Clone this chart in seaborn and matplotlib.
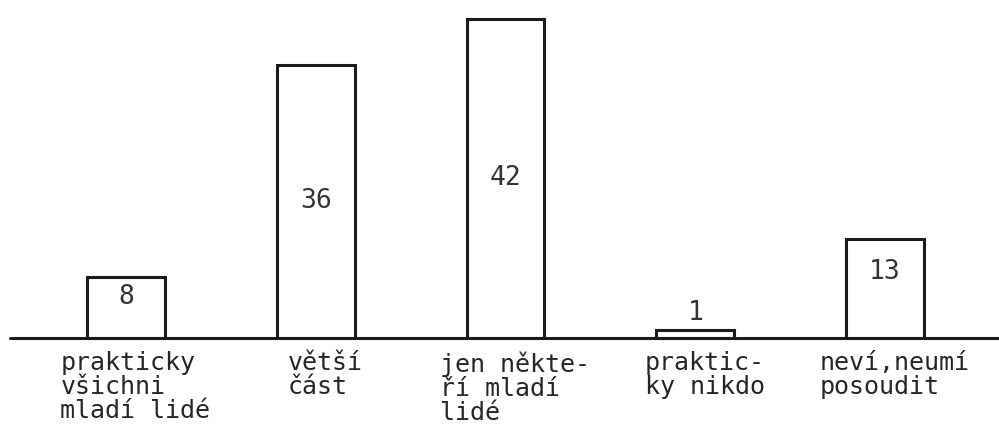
import matplotlib
matplotlib.use('Agg')
from matplotlib import pyplot as plt
import seaborn as sns

categories = ['prakticky\nvšichni\nmladí lidé', 'větší\nčást', 'jen někte-\nří mladí\nlidé',
              'praktic-\nky nikdo', 'neví,neumí\nposoudit']
values = [8, 36, 42, 1, 13]

sns.set_style('white')
plt.rcParams['font.family'] = ['DejaVu Sans Mono', 'DejaVu Sans']
ink = '#1a1a1a'

fig = plt.figure(figsize=(9.99, 4.38), dpi=100)
ax = fig.add_axes([0, 0, 1, 1])
sns.barplot(x=list(range(len(values))), y=values, color='white', edgecolor=ink,
            linewidth=2.2, width=0.41, ax=ax)

ax.set_xlim(-0.663, 4.6)
ax.set_ylim(-13.2, 44.5)
ax.axhline(0, color=ink, lw=2.2, xmin=0.01, xmax=1)
sns.despine(ax=ax, left=True, bottom=True)
ax.set_xticks([])
ax.set_yticks([])

for i, (lab, v) in enumerate(zip(categories, values)):
    ax.text(i + 0.05, -1.8, lab, ha='center', va='top', multialignment='left',
            fontsize=18, linespacing=1.0, color='#262626')
    if v < 3:
        ypos, va = v + 0.6, 'bottom'
    elif v < 20:
        ypos, va = v * 0.67, 'center'
    else:
        ypos, va = v / 2, 'center'
    ax.text(i, ypos, str(v), ha='center', va=va, fontsize=19, color='#333333')

fig.savefig('out.png', dpi=100, facecolor='white')
